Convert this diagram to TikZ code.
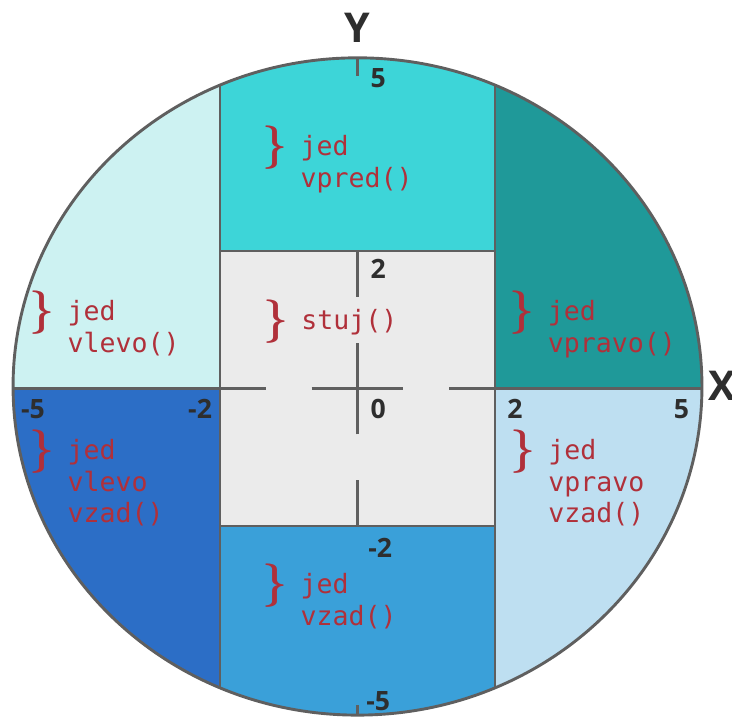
\documentclass[tikz,border=0pt]{standalone}
\usepackage{fontspec}
\newfontfamily\labelfont{Open Sans}
\newfontfamily\cmdfont{DejaVu Sans Mono}
\usetikzlibrary{positioning}
\definecolor{zonefwd}{HTML}{3DD5D8}
\definecolor{zoneback}{HTML}{3AA0D9}
\definecolor{zonestop}{HTML}{EBEBEB}
\definecolor{zoneleft}{HTML}{CDF2F2}
\definecolor{zoneright}{HTML}{1F9999}
\definecolor{zonebackleft}{HTML}{2C6EC6}
\definecolor{zonebackright}{HTML}{BEDFF1}
\definecolor{zoneedge}{HTML}{5F5F5F}
\definecolor{cmdred}{HTML}{B0303A}
\definecolor{tickdark}{HTML}{2E2E2E}
\tikzset{
  zoneline/.style={
    draw=zoneedge,
    line width=1.2pt
  },
  axisdash/.style={
    zoneline,
    dash pattern=on 1.333cm off 0.667cm,
    dash phase=0.667cm
  },
  cmdbrace/.style={
    anchor=east,
    inner sep=0pt,
    text=cmdred,
    font=\bfseries\fontsize{18}{18}\selectfont
  },
  cmdtext/.style={
    anchor=north west,
    inner sep=0pt,
    align=left,
    text=cmdred,
    font={\cmdfont\fontsize{11}{13.1}\selectfont}
  },
  ticklabel/.style={
    inner sep=0pt,
    text=tickdark,
    font={\labelfont\bfseries\fontsize{11}{13}\selectfont}
  },
  axislabel/.style={
    inner sep=0pt,
    text=tickdark,
    font={\labelfont\bfseries\fontsize{17}{19}\selectfont}
  }
}

\begin{document}
\begin{tikzpicture}
  \useasboundingbox (-5.2,-4.778) rectangle (5.447,5.651);

  % zones inside the ellipse
  \begin{scope}
    \clip (0,0.03) ellipse [x radius=5.01, y radius=4.78];
    \fill[zonefwd] (-2,2) rectangle (2,5);
    \fill[zoneback] (-2,-2) rectangle (2,-5);
    \fill[zonestop] (-2,-2) rectangle (2,2);
    \fill[zoneleft] (-5.1,0) rectangle (-2,5);
    \fill[zonebackleft] (-5.1,-5) rectangle (-2,0);
    \fill[zoneright] (2,0) rectangle (5.1,5);
    \fill[zonebackright] (2,-5) rectangle (5.1,0);

    \draw[zoneline] (-2,-5) -- (-2,5);
    \draw[zoneline] (2,-5) -- (2,5);
    \draw[zoneline] (-5.1,0) -- (-2,0);
    \draw[zoneline] (2,0) -- (5.1,0);
    \draw[zoneline] (-2,2) -- (2,2);
    \draw[zoneline] (-2,-2) -- (2,-2);
    \draw[axisdash] (-2,0) -- (2,0);
    \draw[axisdash] (0,-2) -- (0,2);
  \end{scope}
  \draw[zoneline] (0,0.03) ellipse [x radius=5.01, y radius=4.78];
  \draw[zoneline] (0,4.81) -- (0,4.55);
  \draw[zoneline] (0,-4.75) -- (0,-4.60);

  % axis names and tick numbers
  \node[axislabel] (axisy) at (0,5.24) {Y};
  \node[axislabel] (axisx) at (5.30,0.04) {X};
  \node[ticklabel] (ytopfive) at (0.30,4.52) {5};
  \node[ticklabel] (ytwo) at (0.30,1.74) {2};
  \node[ticklabel] (origin) at (0.30,-0.30) {0};
  \node[ticklabel] (yminustwo) at (0.33,-2.32) {-2};
  \node[ticklabel] (yminusfive) at (0.30,-4.54) {-5};
  \node[ticklabel] (xminusfive) at (-4.72,-0.30) {-5};
  \node[ticklabel] (xminustwo) at (-2.29,-0.30) {-2};
  \node[ticklabel] (xtwo) at (2.29,-0.30) {2};
  \node[ticklabel] (xfive) at (4.71,-0.30) {5};

  % commands
  \node[cmdbrace] (bfwd) at (-1.01,3.50) {\}};
  \node[cmdtext] (tfwd) at ([xshift=0.175cm,yshift=0.217cm]bfwd.east) {\strut jed\\vpred()};
  \node[cmdbrace] (bstop) at (-1.00,0.972) {\}};
  \node[cmdtext] (tstop) at ([xshift=0.175cm,yshift=0.217cm]bstop.east) {\strut stuj()};
  \node[cmdbrace] (bleft) at (-4.40,1.098) {\}};
  \node[cmdtext] (tleft) at ([xshift=0.175cm,yshift=0.217cm]bleft.east) {\strut jed\\vlevo()};
  \node[cmdbrace] (bright) at (2.585,1.098) {\}};
  \node[cmdtext] (tright) at ([xshift=0.175cm,yshift=0.217cm]bright.east) {\strut jed\\vpravo()};
  \node[cmdbrace] (bbackleft) at (-4.40,-0.919) {\}};
  \node[cmdtext] (tbackleft) at ([xshift=0.175cm,yshift=0.217cm]bbackleft.east) {\strut jed\\vlevo\\vzad()};
  \node[cmdbrace] (bbackright) at (2.595,-0.919) {\}};
  \node[cmdtext] (tbackright) at ([xshift=0.175cm,yshift=0.217cm]bbackright.east) {\strut jed\\vpravo\\vzad()};
  \node[cmdbrace] (bback) at (-1.01,-2.873) {\}};
  \node[cmdtext] (tback) at ([xshift=0.175cm,yshift=0.217cm]bback.east) {\strut jed\\vzad()};
\end{tikzpicture}
\end{document}
